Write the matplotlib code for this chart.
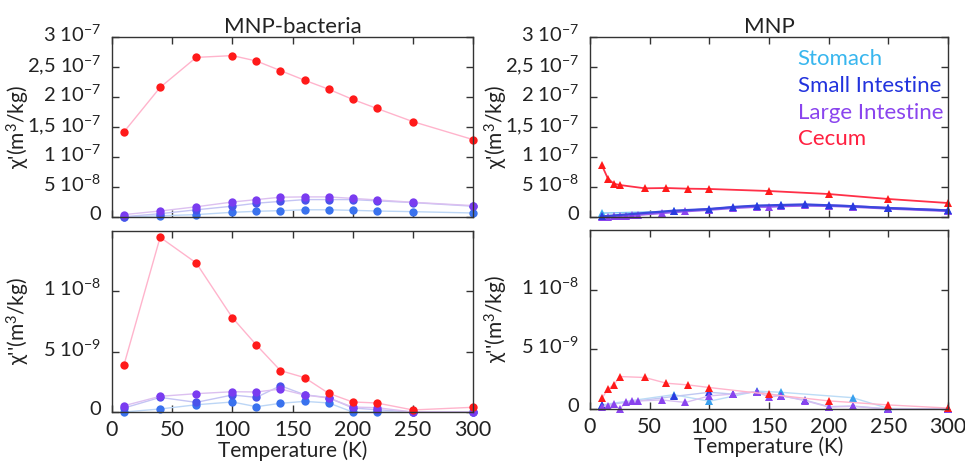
import matplotlib
matplotlib.use("Agg")
import matplotlib.pyplot as plt
from matplotlib.lines import Line2D
from matplotlib.transforms import ScaledTranslation

plt.rcParams['font.family'] = ['Lato', 'DejaVu Sans']
plt.rcParams['mathtext.fontset'] = 'custom'
plt.rcParams['mathtext.rm'] = 'Lato'
plt.rcParams['mathtext.it'] = 'Lato:italic'
plt.rcParams['mathtext.bf'] = 'Lato:bold'

# ---------------- data ----------------
series_names = ["Stomach", "Small Intestine", "Large Intestine", "Cecum"]
legend_colors = ["#38b6ee", "#2233dd", "#8a44ee", "#ff2040"]

# MNP-bacteria, chi' (m^3/kg)
T_bact = [10, 40, 70, 100, 120, 140, 160, 180, 200, 220, 250, 300]
bact_re_stomach = [0.0, 0.2e-8, 0.4e-8, 0.78e-8, 0.95e-8, 1.06e-8, 1.2e-8, 1.2e-8, 1.11e-8, 1.0e-8, 0.89e-8, 0.67e-8]
bact_re_small = [0.05e-8, 0.55e-8, 1.2e-8, 1.8e-8, 2.3e-8, 2.6e-8, 2.9e-8, 2.9e-8, 2.9e-8, 2.7e-8, 2.4e-8, 1.8e-8]
bact_re_large = [0.4e-8, 1.0e-8, 1.7e-8, 2.5e-8, 2.9e-8, 3.3e-8, 3.35e-8, 3.35e-8, 3.1e-8, 2.85e-8, 2.45e-8, 1.9e-8]
bact_re_cecum = [1.42e-7, 2.16e-7, 2.66e-7, 2.69e-7, 2.60e-7, 2.44e-7, 2.28e-7, 2.13e-7, 1.96e-7, 1.81e-7, 1.59e-7, 1.29e-7]

# MNP-bacteria, chi'' (m^3/kg)
bact_im_stomach = [0.0, 0.25e-9, 0.6e-9, 0.83e-9, 0.44e-9, 0.72e-9, 0.88e-9, 0.75e-9, 0.0, 0.0, 0.0, 0.0]
bact_im_small = [0.33e-9, 1.21e-9, 0.8e-9, 1.41e-9, 1.21e-9, 2.18e-9, 1.43e-9, 1.19e-9, 0.33e-9, 0.19e-9, 0.0, 0.0]
bact_im_large = [0.52e-9, 1.3e-9, 1.52e-9, 1.68e-9, 1.66e-9, 1.9e-9, 1.41e-9, 1.16e-9, 0.41e-9, 0.36e-9, 0.0, 0.0]
bact_im_cecum = [3.92e-9, 14.48e-9, 12.35e-9, 7.82e-9, 5.55e-9, 3.43e-9, 2.85e-9, 1.55e-9, 0.83e-9, 0.75e-9, 0.17e-9, 0.39e-9]

# MNP, chi'
T_mnp_stomach = [10, 70, 100, 140, 160, 220, 250, 300]
T_mnp_small = [10, 70, 100, 120, 140, 160, 180, 200, 220, 250, 300]
T_mnp_large = [10, 15, 20, 25, 30, 35, 40, 60, 80, 100, 120, 140, 150, 160, 180, 200, 220, 250, 300]
T_mnp_cecum = [10, 15, 20, 25, 46, 64, 82, 100, 150, 200, 250, 300]

mnp_re_stomach = [0.65e-8, 0.95e-8, 1.25e-8, 1.85e-8, 1.95e-8, 1.75e-8, 1.45e-8, 1.05e-8]
mnp_re_small = [0.1e-8, 1.05e-8, 1.33e-8, 1.67e-8, 1.9e-8, 2.0e-8, 2.1e-8, 1.95e-8, 1.8e-8, 1.5e-8, 1.1e-8]
mnp_re_large = [0.0, 0.05e-8, 0.1e-8, 0.15e-8, 0.2e-8, 0.3e-8, 0.4e-8, 0.7e-8, 1.0e-8, 1.25e-8,
                1.55e-8, 1.75e-8, 1.75e-8, 1.85e-8, 1.95e-8, 1.9e-8, 1.75e-8, 1.45e-8, 1.05e-8]
mnp_re_cecum = [8.6e-8, 6.4e-8, 5.55e-8, 5.33e-8, 4.78e-8, 4.83e-8, 4.72e-8, 4.67e-8, 4.33e-8, 3.83e-8, 3.0e-8, 2.33e-8]

# MNP, chi''
mnp_im_stomach = [0.35e-9, 1.2e-9, 0.65e-9, 1.5e-9, 1.4e-9, 0.95e-9, 0.05e-9, 0.0]
mnp_im_small = [0.3e-9, 1.05e-9, 1.4e-9, 1.25e-9, 1.45e-9, 1.1e-9, 0.75e-9, 0.2e-9, 0.25e-9, 0.0, 0.0]
mnp_im_large = [0.2e-9, 0.28e-9, 0.39e-9, 0.0, 0.56e-9, 0.64e-9, 0.67e-9, 0.76e-9, 0.55e-9, 1.1e-9,
                1.25e-9, 1.45e-9, 0.99e-9, 1.13e-9, 0.7e-9, 0.17e-9, 0.22e-9, 0.0, 0.0]
mnp_im_cecum = [0.9e-9, 1.68e-9, 2.02e-9, 2.72e-9, 2.64e-9, 2.16e-9, 2.02e-9, 1.8e-9, 1.23e-9, 0.68e-9, 0.34e-9, 0.08e-9]

x_ticks = [0, 50, 100, 150, 200, 250, 300]
top_yticks = [0, 5e-8, 1e-7, 1.5e-7, 2e-7, 2.5e-7, 3e-7]
top_yticklabels = ["0", r"5 10$^{-8}$", r"1 10$^{-7}$", r"1,5 10$^{-7}$", r"2 10$^{-7}$", r"2,5 10$^{-7}$", r"3 10$^{-7}$"]
bot_yticks = [0, 5e-9, 1e-8]
bot_yticklabels = ["0", r"5 10$^{-9}$", r"1 10$^{-8}$"]

# ---------------- figure ----------------
W, H = 965, 462
fig = plt.figure(figsize=(W / 100, H / 100), dpi=100)

def rect(x0, y0, x1, y1):
    return [x0 / W, 1 - y1 / H, (x1 - x0) / W, (y1 - y0) / H]

ax_lt = fig.add_axes(rect(112, 37, 473, 217))
ax_lb = fig.add_axes(rect(112, 231, 473, 412))
ax_rt = fig.add_axes(rect(590, 37, 948, 217))
ax_rb = fig.add_axes(rect(590, 230, 948, 409))

edge = "#333333"

def style(ax, top):
    ax.set_xlim(0, 300)
    ax.set_xticks(x_ticks)
    if top:
        ax.set_ylim(0, 3e-7)
        ax.set_yticks(top_yticks)
        ax.set_yticklabels(top_yticklabels)
        ax.tick_params(axis='x', labelbottom=False)
    else:
        ax.set_ylim(0, 1.5e-8)
        ax.set_yticks(bot_yticks)
        ax.set_yticklabels(bot_yticklabels)
        ax.set_xticklabels([str(t) for t in x_ticks])
    ax.tick_params(direction='in', top=True, right=True, length=5, width=1,
                   color=edge, labelcolor="#222222")
    ax.tick_params(axis='y', pad=8, labelsize=14.5)
    ax.tick_params(axis='x', pad=6, labelsize=15.5)
    for s in ax.spines.values():
        s.set_color(edge)
        s.set_linewidth(1.0)
    off = ScaledTranslation(0, 3 / 72, fig.dpi_scale_trans)
    for lab in ax.get_yticklabels():
        lab.set_transform(lab.get_transform() + off)

for ax, top in [(ax_lt, True), (ax_lb, False), (ax_rt, True), (ax_rb, False)]:
    style(ax, top)

# ---- left panels (circles) ----
lc = dict(marker='o', markersize=6, linewidth=1.0, clip_on=False, markeredgewidth=0)
ax_lt.plot(T_bact, bact_re_stomach, color="#bcd6f6", markerfacecolor="#3a72ee", **lc)
ax_lt.plot(T_bact, bact_re_small, color="#c4c4f4", markerfacecolor="#4a52ea", **lc)
ax_lt.plot(T_bact, bact_re_large, color="#dcc0f0", markerfacecolor="#7a3cf0", **lc)
ax_lt.plot(T_bact, bact_re_cecum, color="#ffb4cc", markerfacecolor="#ff1a1a", **lc)

ax_lb.plot(T_bact, bact_im_stomach, color="#bcd6f6", markerfacecolor="#3a72ee", **lc)
ax_lb.plot(T_bact, bact_im_small, color="#c4c4f4", markerfacecolor="#4a52ea", **lc)
ax_lb.plot(T_bact, bact_im_large, color="#dcc0f0", markerfacecolor="#7a3cf0", **lc)
ax_lb.plot(T_bact, bact_im_cecum, color="#ffb4cc", markerfacecolor="#ff1a1a", **lc)

# ---- right panels (triangles) ----
tc = dict(marker='^', markersize=5.5, clip_on=False, markeredgewidth=0)
ax_rt.plot(T_mnp_stomach, mnp_re_stomach, color="#7cc4f2", markerfacecolor="#38a8ee", linewidth=1.0, **tc)
ax_rt.plot(T_mnp_large, mnp_re_large, color="#9a5cee", markerfacecolor="#8a44ee", linewidth=2.0, **tc)
ax_rt.plot(T_mnp_small, mnp_re_small, color="#3a48dc", markerfacecolor="#2a3ae0", linewidth=1.6, **tc)
ax_rt.plot(T_mnp_cecum, mnp_re_cecum, color="#ff3048", markerfacecolor="#ff1a1a", linewidth=1.3, **tc)

ax_rb.plot(T_mnp_stomach, mnp_im_stomach, color="#bcdcf6", markerfacecolor="#38a0ee", linewidth=1.0, **tc)
ax_rb.plot(T_mnp_small, mnp_im_small, color="#c0c8f2", markerfacecolor="#2a3ae0", linewidth=1.0, **tc)
ax_rb.plot(T_mnp_large, mnp_im_large, color="#d8c0f2", markerfacecolor="#8a44ee", linewidth=1.0, **tc)
ax_rb.plot(T_mnp_cecum, mnp_im_cecum, color="#ffb4cc", markerfacecolor="#ff1a1a", linewidth=1.0, **tc)

# ---- labels ----
ylab_top = "χ'(m$^{3}$/kg)"
ylab_bot = "χ''(m$^{3}$/kg)"
for ax, lab in [(ax_lt, ylab_top), (ax_lb, ylab_bot), (ax_rt, ylab_top), (ax_rb, ylab_bot)]:
    ax.set_ylabel(lab, fontsize=15, color="#222222")
    bb = ax.get_position()
    ax.yaxis.set_label_coords(-80 / (bb.width * W), 0.5)

for ax in [ax_lb, ax_rb]:
    ax.set_xlabel("Temperature (K)", fontsize=15, color="#222222")
    ax.xaxis.set_label_coords(0.5, -0.155)

ax_lt.set_title("MNP-bacteria", fontsize=16, color="#222222", pad=2)
ax_rt.set_title("MNP", fontsize=16, color="#222222", pad=2)

handles = [Line2D([], [], linestyle='none', marker=None) for _ in series_names]
leg = ax_rt.legend(handles, series_names, loc='upper left', bbox_to_anchor=(0.555, 0.98),
                   frameon=False, handlelength=0, handletextpad=0, fontsize=16,
                   labelcolor=legend_colors, labelspacing=0.3, borderaxespad=0)

fig.savefig("out.png", dpi=100)
